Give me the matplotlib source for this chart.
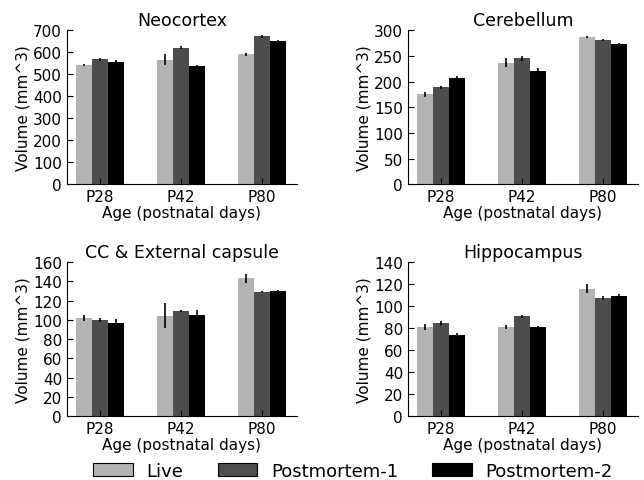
import matplotlib
matplotlib.use("Agg")
import matplotlib.pyplot as plt
import numpy as np
from matplotlib.patches import Patch

ages = ["P28", "P42", "P80"]
series = ["Live", "Postmortem-1", "Postmortem-2"]
colors = ["#b3b3b3", "#4d4d4d", "#000000"]

titles = ["Neocortex", "Cerebellum", "CC & External capsule", "Hippocampus"]

neo_vals = [[542, 565, 591], [568, 620, 673], [556, 538, 650]]
neo_err = [[5, 25, 7], [6, 7, 6], [10, 5, 5]]
cer_vals = [[175, 237, 286], [189, 245, 281], [207, 221, 273]]
cer_err = [[5, 9, 2], [3, 4, 2], [4, 6, 2]]
cc_vals = [[101.5, 104, 143], [100, 108.7, 129], [96.6, 105, 129.5]]
cc_err = [[3, 13, 5], [2, 1, 1], [4, 5, 2]]
hip_vals = [[81, 81, 115.8], [84.5, 90.6, 107.6], [73.6, 81, 109]]
hip_err = [[3, 2, 4], [2, 1, 2], [2, 1, 2]]

all_vals = [neo_vals, cer_vals, cc_vals, hip_vals]
all_err = [neo_err, cer_err, cc_err, hip_err]
ylims = [(0, 700), (0, 300), (0, 160), (0, 140)]
ysteps = [100, 50, 20, 20]

fig = plt.figure(figsize=(6.44, 4.81), dpi=100)
positions = [
    [0.104, 0.615, 0.357, 0.32],
    [0.6335, 0.615, 0.357, 0.32],
    [0.104, 0.133, 0.357, 0.32],
    [0.6335, 0.133, 0.357, 0.32],
]

x = np.arange(len(ages))
w = 0.2
for i in range(4):
    ax = fig.add_axes(positions[i])
    for j in range(3):
        ax.bar(x + (j - 1) * w, all_vals[i][j], w, color=colors[j],
               edgecolor="none", yerr=all_err[i][j],
               error_kw=dict(ecolor="black", elinewidth=1.2, capsize=0))
    ax.set_xlim(-0.41, 2.43)
    ax.set_ylim(*ylims[i])
    ax.set_yticks(np.arange(ylims[i][0], ylims[i][1] + 1, ysteps[i]))
    ax.set_xticks(x)
    ax.set_xticklabels(ages)
    for s in ["top", "right"]:
        ax.spines[s].set_visible(False)
    ax.tick_params(direction="in", labelsize=11, length=4, top=False, right=False)
    ax.set_title(titles[i], fontsize=12.5, pad=4)
    ax.set_ylabel("Volume (mm^3)", fontsize=11, labelpad=2)
    ax.set_xlabel("Age (postnatal days)", fontsize=11, labelpad=1)

handles = [Patch(facecolor=c, edgecolor="black", linewidth=0.8) for c in colors]
fig.legend(handles, series, loc="lower center", bbox_to_anchor=(0.548, -0.034),
           ncol=3, frameon=False, fontsize=13, handlelength=2.2,
           handleheight=0.75, handletextpad=0.75, columnspacing=1.9)

fig.savefig("out.png", dpi=100)
